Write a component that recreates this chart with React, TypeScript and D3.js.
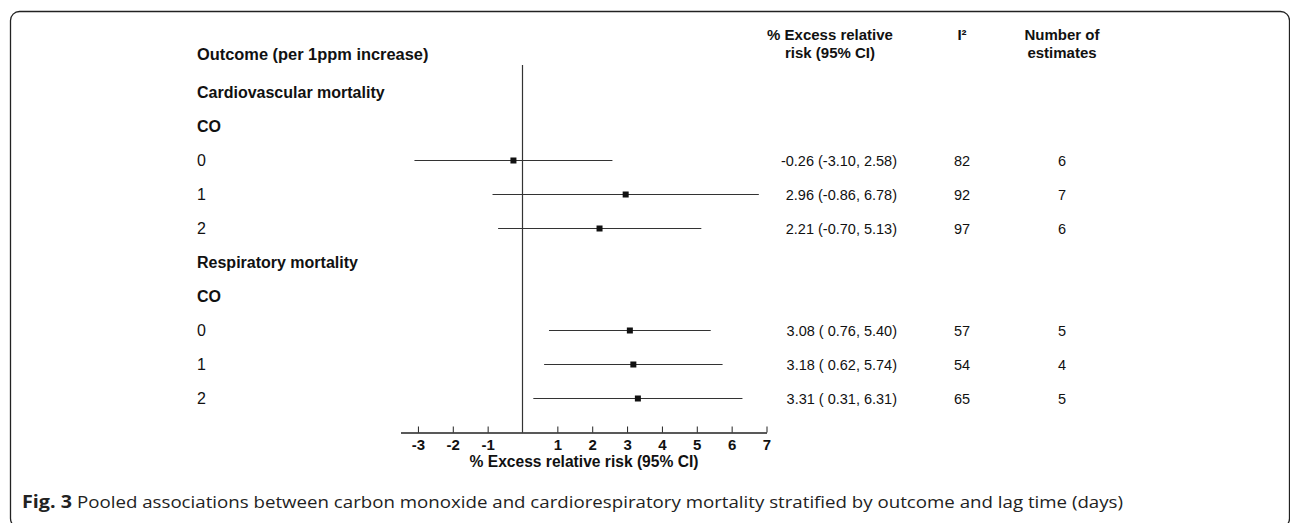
import React, { useRef, useEffect } from "react"
import { select, scaleLinear, axisBottom } from "d3"

// rows of the forest plot, in display order
const outcomes = ["Cardiovascular mortality", "Respiratory mortality"]
const pollutant = "CO"
const lags = ["0", "1", "2"]

// % excess relative risk per 1ppm, one entry per outcome x lag
const estimates = [-0.26, 2.96, 2.21, 3.08, 3.18, 3.31]
const lower = [-3.1, -0.86, -0.7, 0.76, 0.62, 0.31]
const upper = [2.58, 6.78, 5.13, 5.4, 5.74, 6.31]
const iSquared = [82, 92, 97, 57, 54, 65]
const nEstimates = [6, 7, 6, 5, 4, 5]

const xTicks = [-3, -2, -1, 1, 2, 3, 4, 5, 6, 7]

const caption =
  "Pooled associations between carbon monoxide and cardiorespiratory mortality stratified by outcome and lag time (days)"

const W = 1290
const H = 523
const FONT = "'Liberation Sans', Arial, sans-serif"

function fmtCI(est: number, lo: number, hi: number) {
  const pad = lo >= 0 ? " " : ""
  return `${est.toFixed(2)} (${pad}${lo.toFixed(2)}, ${hi.toFixed(2)})`
}

export default function App() {
  const el = useRef<SVGSVGElement | null>(null)

  useEffect(function () {
    const svg = select(el.current)
    svg.selectAll("*").remove()

    // x scale: 0 sits on the reference line, axis runs from -3.5 to 7
    const x = scaleLinear().domain([-3.5, 7]).range([400.5, 766.5])
    const axisY = 432.5
    const rowStep = 34
    const firstRow = 92
    const labelX = 197
    const ciX = 897
    const i2X = 962
    const nX = 1062

    // frame round the figure
    svg.append("rect")
      .attr("x", 10.5).attr("y", 11.5)
      .attr("width", 1279).attr("height", 516)
      .attr("rx", 9)
      .attr("fill", "none")
      .attr("stroke", "#222")
      .attr("stroke-width", 1.3)

    const g = svg.append("g").style("font-family", FONT).attr("fill", "#111")

    const txt = (t: string, xx: number, yy: number, size: number, weight = "normal", anchor = "start") =>
      g.append("text").attr("x", xx).attr("y", yy).attr("text-anchor", anchor)
        .style("font-size", size + "px").style("font-weight", weight).text(t)

    // column headers
    txt("Outcome (per 1ppm increase)", labelX, 60, 16.4, "bold")
    txt("% Excess relative", 830, 40, 15, "bold", "middle")
    txt("risk (95% CI)", 830, 58, 15, "bold", "middle")
    txt("I²", i2X, 40, 15, "bold", "middle")
    txt("Number of", nX, 40, 15, "bold", "middle")
    txt("estimates", nX, 58, 15, "bold", "middle")

    // build the row list: outcome heading, pollutant heading, one row per lag
    type Row = { kind: "head" | "data"; label: string; k: number }
    const rows: Row[] = []
    outcomes.forEach((o, oi) => {
      rows.push({ kind: "head", label: o, k: -1 })
      rows.push({ kind: "head", label: pollutant, k: -1 })
      lags.forEach((l, li) => rows.push({ kind: "data", label: l, k: oi * lags.length + li }))
    })
    const rowY = scaleLinear().domain([0, rows.length - 1])
      .range([firstRow, firstRow + rowStep * (rows.length - 1)])

    rows.forEach((r, i) => {
      txt(r.label, labelX, rowY(i) + 6, 16, r.kind === "head" ? "bold" : "normal")
    })

    // reference line at zero
    g.append("line")
      .attr("x1", x(0)).attr("x2", x(0))
      .attr("y1", 65).attr("y2", axisY)
      .attr("stroke", "#333").attr("stroke-width", 1.2)

    const dataRows = rows.map((r, i) => ({ r, i })).filter(d => d.r.kind === "data")

    // confidence intervals
    g.selectAll("line.ci").data(dataRows).enter().append("line")
      .attr("class", "ci")
      .attr("x1", d => x(lower[d.r.k]))
      .attr("x2", d => x(upper[d.r.k]))
      .attr("y1", d => rowY(d.i) + 0.5)
      .attr("y2", d => rowY(d.i) + 0.5)
      .attr("stroke", "#333").attr("stroke-width", 1.1)

    // point estimates
    const sq = 6
    g.selectAll("rect.est").data(dataRows).enter().append("rect")
      .attr("class", "est")
      .attr("x", d => x(estimates[d.r.k]) - sq / 2)
      .attr("y", d => rowY(d.i) + 0.5 - sq / 2)
      .attr("width", sq).attr("height", sq)
      .attr("fill", "#111")

    // right-hand columns
    dataRows.forEach(d => {
      const k = d.r.k
      const y = rowY(d.i) + 5.5
      txt(fmtCI(estimates[k], lower[k], upper[k]), ciX, y, 14.5, "normal", "end")
        .style("white-space", "pre")
      txt(String(iSquared[k]), i2X, y, 14.5, "normal", "middle")
      txt(String(nEstimates[k]), nX, y, 14.5, "normal", "middle")
    })

    // x axis, ticks pointing up
    const ax = g.append("g")
      .attr("transform", `translate(0,${axisY})`)
      .call(axisBottom(x).tickValues(xTicks).tickSize(-6).tickSizeOuter(0).tickPadding(7)
        .tickFormat(d => String(d)))
    ax.select(".domain").attr("stroke", "#222").attr("stroke-width", 1.3)
    ax.selectAll(".tick line").attr("stroke", "#222")
    ax.selectAll(".tick text")
      .attr("fill", "#111")
      .style("font-family", FONT)
      .style("font-size", "15px")
      .style("font-weight", "bold")

    txt("% Excess relative risk (95% CI)", 584, 467, 15.6, "bold", "middle")

    // figure caption
    const cap = svg.append("g").style("font-family", "'Liberation Sans Narrow', 'Open Sans', sans-serif")
      .attr("fill", "#222")
    cap.append("text").attr("x", 22).attr("y", 508)
      .style("font-size", "17px").style("font-weight", "bold")
      .attr("textLength", 50).attr("lengthAdjust", "spacingAndGlyphs")
      .text("Fig. 3")
    cap.append("text").attr("x", 77).attr("y", 508)
      .style("font-size", "17px")
      .attr("textLength", 1046).attr("lengthAdjust", "spacingAndGlyphs")
      .text(caption)
  }, [])

  return (
    <svg ref={el} width={W} height={H}
      style={{ position: "absolute", left: 0, top: 0, background: "#fff", display: "block" }} />
  )
}
